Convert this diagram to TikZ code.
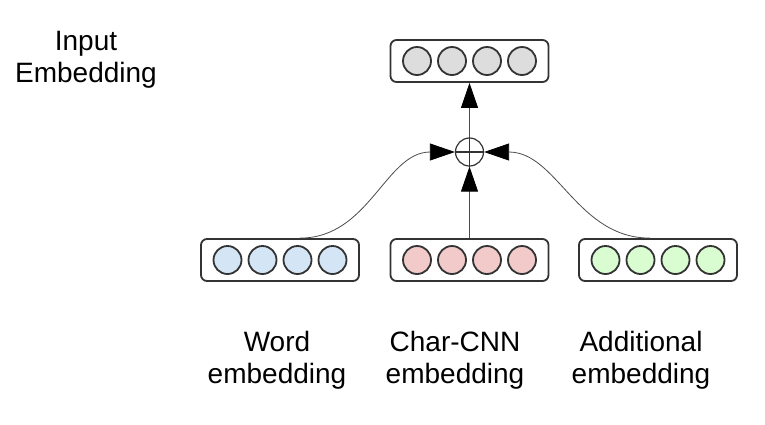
\documentclass[tikz,border=0pt]{standalone}
\usepackage{fontspec}
\setmainfont{Liberation Sans}
\usepackage{tikz}
\usetikzlibrary{arrows.meta}
\usepackage{xcolor}
\definecolor{vecgray}{HTML}{DDDDDD}
\definecolor{wordblue}{HTML}{D4E5F5}
\definecolor{charpink}{HTML}{F2CACA}
\definecolor{addgreen}{HTML}{D9FCD0}
\definecolor{rim}{HTML}{333333}

\begin{document}
\begin{tikzpicture}[x=1pt, y=-1pt,
  vecbox/.style={draw=rim, line width=1.8pt, rounded corners=6pt, minimum width=158pt, minimum height=42pt, inner sep=0pt},
  unit/.style={circle, draw=rim, line width=1.8pt, minimum size=28pt, inner sep=0pt},
  lbl/.style={font=\fontsize{28}{32}\selectfont, align=center, inner sep=0pt, anchor=north},
  link/.style={line width=0.8pt, draw=black!70, -{Triangle[length=25pt, width=17pt, black]}}]
\fill[white] (0,0) rectangle (765,424);
\useasboundingbox (0,0) rectangle (765,424);

% embedding vectors
\foreach \name/\cx/\cy/\col in {out/469.5/61/vecgray, word/280/260/wordblue, char/469.5/260/charpink, add/658/260/addgreen} {
    \node[vecbox] (\name) at (\cx, \cy) {};
    \foreach \i in {1,...,4} {
        \node[unit, fill=\col] (\name\i) at ({\cx+35*(\i-2.5)}, \cy) {};
    }
}

% sum
\node[circle, draw=rim, line width=1.2pt, minimum size=28pt, inner sep=0pt] (sum) at (469.5, 152) {};
\draw[rim, line width=1.2pt] (sum.north) -- (sum.south) (sum.west) -- (sum.east);

% Arrows into the sum
\draw[link] (sum) -- (out);
\draw[link] (char) -- (sum);
\draw[link] ([xshift=20pt]word.north) to[out=0, in=180] (sum.west);
\draw[link] ([xshift=-8pt]add.north) to[out=180, in=0] (sum.east);

% labels
\node[lbl] (inlbl) at (86, 31) {Input\\Embedding};
\node[lbl] (wordlbl) at (277, 331) {Word\\embedding};
\node[lbl] (charlbl) at (455, 331) {Char-CNN\\embedding};
\node[lbl] (addlbl) at (641, 331) {Additional\\embedding};
\end{tikzpicture}
\end{document}
